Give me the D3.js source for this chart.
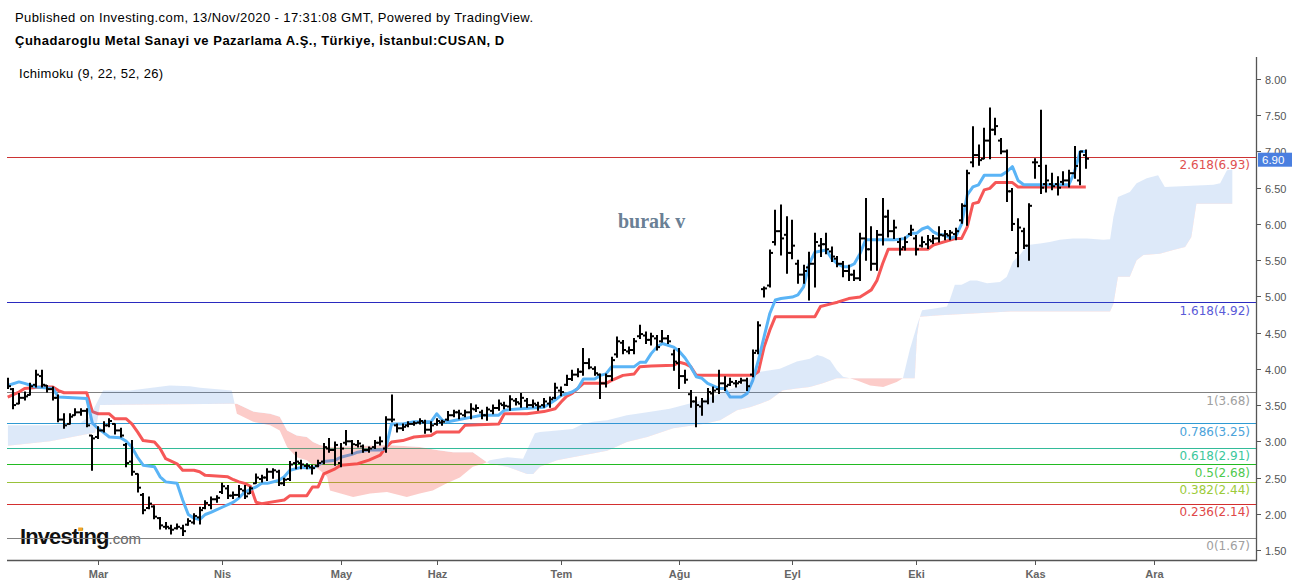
<!DOCTYPE html>
<html><head><meta charset="utf-8">
<script src="https://cdn.jsdelivr.net/npm/d3@7"></script>
<style>body{margin:0;background:#fff;} svg{display:block;}</style>
</head><body><svg id="c" width="1298" height="584"></svg>
<script>
// ---- data (bar index 0 = 7 Feb 2020, trading days) ----
const ohlc = [
[3.84,3.87,3.73,3.76],[3.72,3.73,3.45,3.50],[3.52,3.66,3.52,3.60],[3.60,3.68,3.57,3.62],[3.64,3.80,3.64,3.76],
[3.78,3.98,3.75,3.92],[3.90,3.98,3.75,3.78],[3.77,3.77,3.68,3.72],[3.72,3.75,3.57,3.60],[3.60,3.64,3.27,3.30],
[3.30,3.38,3.18,3.22],[3.24,3.38,3.24,3.34],[3.36,3.45,3.36,3.40],[3.40,3.45,3.36,3.42],[3.42,3.45,3.20,3.22],
[3.08,3.08,2.60,3.04],[3.06,3.20,3.04,3.15],[3.15,3.27,3.13,3.22],[3.22,3.31,3.20,3.28],[3.24,3.24,3.10,3.15],
[3.15,3.18,3.06,3.08],[2.95,2.97,2.65,2.70],[2.72,3.01,2.53,2.58],[2.55,2.55,2.30,2.36],[2.26,2.28,2.00,2.05],
[2.08,2.23,2.07,2.14],[2.10,2.11,1.93,1.96],[1.94,1.95,1.79,1.84],[1.82,1.88,1.79,1.82],[1.80,1.84,1.72,1.78],
[1.80,1.86,1.79,1.82],[1.80,1.84,1.70,1.76],[1.85,1.93,1.84,1.90],[1.88,2.00,1.86,1.97],[1.95,2.09,1.86,2.05],
[2.08,2.18,2.07,2.15],[2.12,2.23,2.07,2.20],[2.20,2.25,2.16,2.22],[2.30,2.42,2.28,2.38],[2.35,2.39,2.21,2.25],
[2.25,2.30,2.21,2.26],[2.26,2.39,2.23,2.34],[2.32,2.39,2.21,2.24],[2.28,2.37,2.28,2.35],[2.42,2.55,2.42,2.50],
[2.48,2.53,2.44,2.50],[2.50,2.62,2.46,2.58],[2.58,2.62,2.49,2.60],[2.58,2.60,2.39,2.42],[2.42,2.49,2.39,2.47],
[2.48,2.72,2.46,2.68],[2.70,2.85,2.62,2.72],[2.70,2.74,2.62,2.68],[2.66,2.69,2.62,2.66],[2.64,2.67,2.55,2.63],
[2.66,2.74,2.65,2.70],[2.72,2.97,2.69,2.92],[2.90,3.04,2.85,2.88],[2.88,2.99,2.67,2.95],[2.70,2.97,2.65,2.90],
[2.98,3.15,2.95,3.00],[3.00,3.01,2.83,2.96],[2.95,3.01,2.92,2.97],[2.93,2.95,2.85,2.88],[2.88,2.92,2.85,2.90],
[2.92,3.01,2.90,2.98],[2.98,3.06,2.95,3.00],[2.90,3.34,2.85,3.30],[3.30,3.64,3.27,3.30],[3.22,3.24,3.13,3.18],
[3.18,3.24,3.15,3.20],[3.22,3.27,3.20,3.24],[3.24,3.27,3.22,3.25],[3.26,3.31,3.24,3.28],[3.26,3.29,3.11,3.16],
[3.16,3.27,3.13,3.22],[3.24,3.31,3.22,3.28],[3.26,3.29,3.22,3.27],[3.30,3.41,3.29,3.36],[3.36,3.43,3.34,3.40],
[3.40,3.43,3.31,3.38],[3.36,3.43,3.34,3.40],[3.40,3.52,3.31,3.45],[3.44,3.50,3.41,3.46],[3.40,3.43,3.31,3.36],
[3.36,3.47,3.29,3.44],[3.42,3.50,3.38,3.46],[3.46,3.57,3.43,3.52],[3.50,3.54,3.45,3.49],[3.48,3.63,3.43,3.58],
[3.56,3.59,3.50,3.54],[3.52,3.66,3.47,3.60],[3.56,3.59,3.47,3.50],[3.50,3.57,3.47,3.52],[3.50,3.54,3.43,3.48],
[3.50,3.59,3.47,3.55],[3.52,3.61,3.47,3.58],[3.60,3.80,3.59,3.74],[3.70,3.75,3.63,3.68],[3.78,3.91,3.77,3.86],
[3.86,3.98,3.84,3.92],[3.92,4.00,3.89,3.96],[3.96,4.28,3.91,4.08],[4.08,4.14,4.00,4.02],[4.00,4.03,3.91,3.94],
[3.92,3.93,3.59,3.80],[3.80,3.93,3.75,3.90],[3.90,4.16,3.84,4.12],[4.20,4.44,4.16,4.38],[4.36,4.39,4.21,4.26],
[4.24,4.30,4.21,4.26],[4.26,4.42,4.21,4.38],[4.45,4.60,4.42,4.48],[4.46,4.51,4.35,4.40],[4.40,4.49,4.33,4.45],
[4.42,4.46,4.26,4.30],[4.38,4.53,4.37,4.42],[4.42,4.46,4.35,4.38],[4.20,4.26,3.98,4.10],[4.08,4.28,3.73,3.90],
[3.90,3.98,3.80,3.85],[3.65,3.70,3.47,3.55],[3.55,3.61,3.20,3.50],[3.48,3.59,3.36,3.55],[3.55,3.73,3.52,3.68],
[3.66,3.75,3.54,3.70],[3.72,3.98,3.66,3.80],[3.80,3.89,3.70,3.76],[3.78,3.87,3.77,3.82],[3.80,3.84,3.75,3.80],
[3.82,3.87,3.80,3.84],[3.84,3.87,3.70,3.76],[3.92,4.26,3.89,4.22],[4.25,4.65,4.21,4.60],[5.10,5.13,4.99,5.11],
[5.15,5.64,5.13,5.60],[5.75,6.19,5.71,5.90],[5.90,6.26,5.57,5.80],[5.85,6.10,5.32,5.60],[5.60,6.05,5.52,5.70],
[5.45,5.50,5.18,5.30],[5.30,5.43,5.18,5.35],[5.40,5.61,4.95,5.45],[5.45,5.87,5.13,5.75],[5.70,5.80,5.55,5.72],
[5.72,5.87,5.59,5.65],[5.62,5.68,5.48,5.55],[5.52,5.55,5.41,5.45],[5.45,5.48,5.27,5.35],[5.35,5.43,5.22,5.30],
[5.30,5.36,5.22,5.25],[5.25,5.87,5.22,5.80],[5.80,6.35,5.50,5.65],[5.65,5.96,5.36,5.45],[5.45,5.91,5.36,5.85],
[5.85,6.35,5.71,6.10],[6.10,6.19,5.82,5.90],[5.90,6.05,5.80,5.95],[5.75,5.80,5.57,5.65],[5.68,5.82,5.64,5.75],
[5.86,5.98,5.84,5.92],[5.80,5.84,5.57,5.65],[5.70,5.82,5.68,5.75],[5.72,5.84,5.66,5.78],[5.76,5.84,5.73,5.80],
[5.80,5.96,5.75,5.85],[5.84,5.91,5.78,5.86],[5.84,5.91,5.78,5.88],[5.86,5.94,5.78,5.90],[6.05,6.28,6.01,6.25],
[6.25,6.74,5.98,6.70],[6.85,7.34,6.79,6.95],[6.95,7.09,6.81,6.88],[6.90,7.32,6.90,7.15],[7.15,7.60,6.90,7.30],
[7.30,7.46,7.23,7.35],[7.15,7.18,6.97,7.00],[7.00,7.02,6.31,6.45],[6.45,6.49,5.91,6.00],[5.60,6.07,5.41,5.95],
[5.90,5.94,5.66,5.70],[5.70,6.28,5.50,6.25],[6.85,6.90,6.63,6.85],[6.80,7.57,6.42,6.50],[6.55,6.81,6.44,6.60],
[6.55,6.70,6.47,6.52],[6.55,6.65,6.40,6.50],[6.58,6.72,6.54,6.60],[6.60,6.74,6.51,6.70],[6.70,7.07,6.63,6.80],
[6.60,7.00,6.54,7.00],[6.95,7.02,6.77,6.90]
];
// Ichimoku lines: [bar index, value]
const tenkan = [[0,3.77],[2,3.82],[3,3.80],[5,3.75],[8,3.73],[9,3.61],[14,3.59],[15,3.25],[16,3.18],[17,3.12],[18,3.06],[20,3.05],[21,3.00],[22,2.92],[23,2.78],[24,2.67],[26,2.65],[27,2.51],[28,2.44],[30,2.42],[31,2.19],[32,1.99],[33,1.94],[34,1.92],[35,1.99],[36,2.02],[38,2.09],[40,2.16],[41,2.22],[42,2.30],[44,2.37],[45,2.42],[46,2.42],[48,2.46],[49,2.51],[50,2.60],[52,2.64],[54,2.63],[55,2.67],[56,2.72],[58,2.74],[59,2.78],[61,2.82],[62,2.85],[64,2.88],[66,2.88],[67,2.90],[68,3.24],[70,3.24],[72,3.27],[75,3.27],[76,3.38],[77,3.29],[78,3.27],[80,3.30],[82,3.33],[84,3.36],[87,3.36],[88,3.43],[91,3.45],[95,3.47],[97,3.57],[98,3.63],[100,3.68],[101,3.73],[102,3.86],[104,3.86],[105,3.91],[106,3.93],[107,4.03],[111,4.03],[112,4.09],[113,4.09],[114,4.21],[115,4.30],[116,4.35],[118,4.30],[119,4.24],[120,4.15],[121,4.03],[122,3.89],[123,3.87],[124,3.80],[126,3.73],[127,3.73],[128,3.61],[130,3.61],[131,3.66],[132,3.84],[133,4.12],[134,4.44],[135,4.76],[136,4.95],[137,4.97],[139,4.99],[140,5.02],[141,5.13],[142,5.45],[143,5.61],[145,5.64],[146,5.52],[147,5.45],[148,5.41],[149,5.41],[150,5.45],[151,5.59],[152,5.78],[157,5.78],[159,5.80],[160,5.87],[161,5.87],[162,5.93],[163,5.96],[164,5.89],[165,5.85],[166,5.85],[167,5.80],[168,5.83],[169,6.00],[170,6.40],[171,6.51],[172,6.54],[173,6.67],[176,6.67],[177,6.72],[178,6.79],[179,6.60],[180,6.54],[188,6.54],[189,6.72],[190,7.00],[191,7.00]];
const kijun = [[0,3.61],[2,3.68],[3,3.73],[6,3.75],[8,3.75],[9,3.70],[10,3.67],[14,3.67],[15,3.41],[16,3.38],[18,3.38],[19,3.31],[21,3.31],[22,3.24],[23,3.13],[24,3.01],[26,2.99],[27,2.90],[28,2.76],[30,2.69],[31,2.60],[33,2.60],[34,2.58],[35,2.53],[39,2.51],[40,2.47],[41,2.44],[42,2.42],[43,2.38],[44,2.16],[45,2.14],[49,2.19],[50,2.25],[53,2.25],[54,2.37],[55,2.37],[56,2.55],[58,2.62],[59,2.67],[62,2.69],[64,2.74],[66,2.81],[67,2.92],[68,2.99],[70,3.01],[72,3.06],[75,3.08],[76,3.13],[80,3.13],[81,3.22],[87,3.24],[88,3.38],[92,3.38],[95,3.41],[97,3.45],[98,3.54],[99,3.62],[100,3.66],[101,3.73],[102,3.80],[106,3.80],[107,3.84],[109,3.91],[111,3.93],[112,4.03],[114,4.04],[118,4.05],[119,4.09],[120,4.07],[121,4.03],[122,3.91],[132,3.91],[133,3.96],[134,4.30],[135,4.53],[136,4.72],[143,4.72],[144,4.86],[146,4.90],[147,4.92],[149,4.97],[151,4.99],[152,5.04],[153,5.09],[154,5.22],[155,5.45],[156,5.65],[163,5.65],[164,5.71],[168,5.80],[169,5.80],[170,5.96],[171,6.28],[172,6.30],[173,6.47],[174,6.49],[175,6.57],[178,6.57],[179,6.51],[191,6.51]];
const spanA = [[0,3.22],[7.5,3.22],[12.8,3.25],[14.6,3.35],[16.35,3.62],[16.9,3.70],[21.7,3.70],[28.7,3.77],[32.3,3.76],[34.1,3.74],[39.7,3.70],[40.6,3.38],[43.5,3.27],[46.5,3.22],[48.2,3.15],[49.5,2.92],[51.2,2.78],[53,2.74],[54.1,2.67],[55.3,2.60],[56.6,2.51],[57.1,2.32],[61.2,2.23],[64.2,2.28],[67.2,2.30],[70.7,2.23],[73,2.28],[75.3,2.32],[77.8,2.42],[80.1,2.50],[82.4,2.65],[84.2,2.69],[84.9,2.71],[85.4,2.74],[88.5,2.78],[91.3,2.76],[93.4,3.11],[94.3,3.13],[97.3,3.15],[100.1,3.17],[101.9,3.24],[103.7,3.27],[106.2,3.29],[109.7,3.36],[113.3,3.40],[117.3,3.45],[123.2,3.57],[126.2,3.66],[129.2,3.75],[132,3.89],[133.3,3.96],[136.8,4.00],[139.8,4.10],[142.1,4.14],[143.4,4.19],[144.4,4.17],[145.7,4.12],[146.9,3.98],[148,3.89],[149.2,3.87],[150.5,3.84],[152.8,3.77],[155.1,3.75],[157.5,3.82],[158.6,3.87],[159.8,4.26],[161.1,4.60],[162,4.81],[163.9,4.83],[166.4,4.86],[166.9,4.95],[167.8,5.16],[169,5.16],[170.5,5.22],[171.7,5.22],[173.5,5.18],[175.8,5.20],[177,5.27],[178.1,5.48],[179.3,5.57],[180.7,5.71],[182.9,5.73],[184.6,5.75],[186.4,5.78],[188.7,5.80],[191.2,5.80],[194.1,5.78],[195.3,5.79],[195.9,6.10],[196.7,6.37],[198.8,6.44],[200,6.56],[201.8,6.63],[203.8,6.67],[205,6.51],[213.6,6.54],[214.8,6.56],[216,6.74],[217,6.75]];
const spanB = [[0,2.94],[7.5,3.00],[12.8,3.08],[15.5,3.12],[16.35,3.50],[39.7,3.52],[40.6,3.52],[43.5,3.41],[46.5,3.38],[48.2,3.34],[49.5,3.15],[51.2,3.08],[53,3.06],[54.1,2.99],[55.3,2.95],[57.1,2.92],[67.2,2.95],[73,2.92],[76,2.88],[78.9,2.85],[82.4,2.85],[84.9,2.71],[85.4,2.69],[88.5,2.65],[92,2.55],[93.1,2.55],[94.3,2.65],[97.3,2.74],[100.1,2.78],[106.2,2.87],[109.7,2.99],[113.3,3.06],[117.9,3.18],[123.2,3.24],[126.2,3.29],[129.2,3.43],[131.5,3.47],[133.3,3.52],[135,3.57],[137.3,3.70],[139.8,3.73],[142.1,3.75],[144.4,3.80],[146.9,3.87],[160.7,3.87],[161.1,4.46],[161.6,4.72],[165.2,4.74],[177.6,4.79],[195.3,4.79],[195.9,4.90],[196.7,5.27],[198.8,5.27],[200,5.50],[201.2,5.57],[204.1,5.59],[206.5,5.64],[208.6,5.68],[209.7,5.82],[210.6,6.28],[217,6.28]];
const monthLabels = ["Mar","Nis","May","Haz","Tem","Ağu","Eyl","Eki","Kas","Ara"];
const monthIdx = [16,38,59,76,98,119,139,161,182,203];
const yTicks = [1.5,2,2.5,3,3.5,4,4.5,5,5.5,6,6.5,7,7.5,8];
const fibRatios = ["2.618","1.618","1","0.786","0.618","0.5","0.382","0.236","0"];
const fibValues = [6.93,4.92,3.68,3.25,2.91,2.68,2.44,2.14,1.67];
const lastPrice = 6.90;

// ---- styles ----
const fibLineColors = ["#cc3333","#2a2abf","#808080","#2f9ad3","#33bb99","#22bb22","#99c23a","#d32f2f","#808080"];
const fibTextColors = ["#e05050","#5a5ad8","#a0a0a0","#4ba3da","#3cc79c","#4ec94e","#9ccb3a","#e04848","#a0a0a0"];

const svg = d3.select("#c");
const L = 7, R = 1256, T = 57, B = 560;
const x = d3.scaleLinear().domain([16,182]).range([98,1035]);
const y = d3.scaleLinear().domain([1.5,8]).range([550,79]);

const defs = svg.append("defs");
defs.append("clipPath").attr("id","plot").append("rect")
  .attr("x",L).attr("y",T).attr("width",R-L).attr("height",B-T);

// header
const hdr = svg.append("g").attr("font-family","'Liberation Sans',Arial,sans-serif").attr("fill","#000");
hdr.append("text").attr("x",15).attr("y",22).attr("font-size",13).attr("letter-spacing",0.4).text("Published on Investing.com, 13/Nov/2020 - 17:31:08 GMT, Powered by TradingView.");
hdr.append("text").attr("x",15).attr("y",45).attr("font-size",13).attr("font-weight","bold").attr("letter-spacing",0.5).text("Çuhadaroglu Metal Sanayi ve Pazarlama A.Ş., Türkiye, İstanbul:CUSAN, D");
hdr.append("text").attr("x",19).attr("y",78).attr("font-size",13).attr("letter-spacing",0.33).text("Ichimoku (9, 22, 52, 26)");

const plot = svg.append("g").attr("clip-path","url(#plot)");

// watermark logo
const logo = plot.append("g").attr("font-family","'Liberation Sans',Arial,sans-serif");
const lt = logo.append("text").attr("x",20).attr("y",544);
const ltMain = lt.append("tspan").attr("font-size",22).attr("font-weight","bold").attr("letter-spacing",-0.9).attr("fill","#111").text("Investing");
lt.append("tspan").attr("font-size",15).attr("fill","#666").text(".com");

// fib lines
fibValues.forEach((v,k)=>{
  plot.append("line").attr("x1",L).attr("x2",R).attr("y1",Math.round(y(v))+0.5).attr("y2",Math.round(y(v))+0.5)
    .attr("stroke",fibLineColors[k]).attr("stroke-width",1);
});

// orange dot over the second "i" of the logo
try {
  const ex = lt.node().getExtentOfChar(6);
  logo.append("rect").attr("x",ex.x+ex.width/2-2.6).attr("y",527.5).attr("width",4.6).attr("height",3.6).attr("fill","#f5a623");
} catch(e) {}

// ichimoku lines
const ln = d3.line().x(d=>x(d[0])).y(d=>y(d[1]));
plot.append("path").attr("d",ln(kijun)).attr("fill","none").attr("stroke","#f65757").attr("stroke-width",3).attr("stroke-linejoin","round");
plot.append("path").attr("d",ln(tenkan)).attr("fill","none").attr("stroke","#5ab4f6").attr("stroke-width",3).attr("stroke-linejoin","round");

// cloud
const bLine = ln(spanB);
const x0c = x(spanB[0][0]), x1c = x(spanB[spanB.length-1][0]);
defs.append("clipPath").attr("id","aboveB").append("path").attr("d", bLine + `L${x1c},0L${x0c},0Z`);
defs.append("clipPath").attr("id","belowB").append("path").attr("d", bLine + `L${x1c},600L${x0c},600Z`);
const band = ln(spanA) + "L" + spanB.slice().reverse().map(d=>x(d[0])+","+y(d[1])).join("L") + "Z";
const cl = plot.append("g");
cl.append("path").attr("d",band).attr("fill","rgba(66,133,224,0.18)").attr("clip-path","url(#aboveB)");
cl.append("path").attr("d",band).attr("fill","rgba(244,67,54,0.27)").attr("clip-path","url(#belowB)");

// OHLC bars
const bars = plot.append("g").attr("stroke","#000").attr("stroke-width",2);
ohlc.forEach((d,i)=>{
  const cx = Math.round(x(i));
  bars.append("line").attr("x1",cx).attr("x2",cx).attr("y1",y(d[1])-0.5).attr("y2",y(d[2])+0.5);
  bars.append("line").attr("x1",cx-3).attr("x2",cx).attr("y1",y(d[0])).attr("y2",y(d[0]));
  bars.append("line").attr("x1",cx).attr("x2",cx+3).attr("y1",y(d[3])).attr("y2",y(d[3]));
});

// burak v
plot.append("text").attr("x",618).attr("y",228).attr("font-family","'Liberation Serif','Times New Roman',serif")
  .attr("font-weight","bold").attr("font-size",20).attr("fill","#6a8095").text("burak v");

// fib labels
fibValues.forEach((v,k)=>{
  svg.append("text").attr("x",1250).attr("y",y(v)+12.5).attr("text-anchor","end")
    .attr("font-family","'DejaVu Sans',Verdana,sans-serif").attr("font-size",12)
    .attr("fill",fibTextColors[k]).text(`${fibRatios[k]}(${v.toFixed(2)})`);
});

// axes
const ax = svg.append("g").attr("font-family","'Liberation Sans',Arial,sans-serif").attr("font-size",11).attr("fill","#555");
ax.append("line").attr("x1",R+0.5).attr("x2",R+0.5).attr("y1",T).attr("y2",B+1).attr("stroke","#555").attr("stroke-width",1.3);
ax.append("line").attr("x1",L).attr("x2",R+1).attr("y1",B+0.5).attr("y2",B+0.5).attr("stroke","#555").attr("stroke-width",1.3);
yTicks.forEach(v=>{
  const yy = Math.round(y(v))+0.5;
  ax.append("line").attr("x1",R).attr("x2",R+5).attr("y1",yy).attr("y2",yy).attr("stroke","#555");
  ax.append("text").attr("x",R+9).attr("y",yy+4).text(d3.format(".2f")(v));
});
monthIdx.forEach((m,k)=>{
  const xx = Math.round(x(m))+0.5;
  ax.append("line").attr("x1",xx).attr("x2",xx).attr("y1",B).attr("y2",B+5).attr("stroke","#555");
  ax.append("text").attr("x",xx).attr("y",B+18).attr("text-anchor","middle").attr("font-weight","bold").attr("fill","#666").text(monthLabels[k]);
});

// last price label
const py = y(lastPrice);
svg.append("rect").attr("x",R+2).attr("y",py-6).attr("width",34).attr("height",14).attr("fill","#4a7fe0");
svg.append("text").attr("x",R+6).attr("y",py+5).attr("font-family","'Liberation Sans',Arial,sans-serif").attr("font-size",11.5).attr("fill","#fff").text(lastPrice.toFixed(2));
</script></body></html>
